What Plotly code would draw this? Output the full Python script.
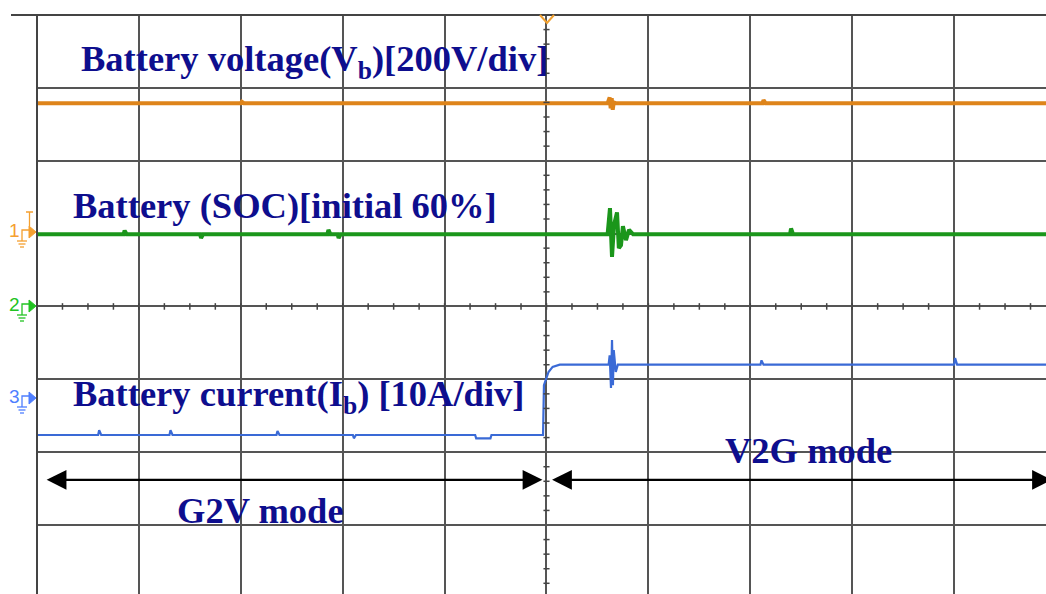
import plotly.graph_objects as go

# ---------------- data (oscilloscope divisions) ----------------
# time axis: 0..~9.9 div, vertical: -3.95..4 div (0 = screen centre)
v_t = [0.0, 2.0, 2.01, 2.03, 5.60, 5.62, 5.63, 5.64, 5.65, 5.66, 5.68, 7.12, 7.13, 7.15, 9.95]
v_y = [2.79, 2.79, 2.81, 2.79, 2.79, 2.87, 2.72, 2.86, 2.70, 2.80, 2.79, 2.79, 2.83, 2.79, 2.79]

soc_t = [0.0, 0.85, 0.86, 0.88, 1.60, 1.61, 1.63, 2.85, 2.86, 2.88, 2.95, 2.96, 2.98,
         5.60, 5.623, 5.643, 5.663, 5.692, 5.71, 5.731, 5.75, 5.78, 5.81, 5.85,
         7.39, 7.40, 7.42, 9.95]
soc_y = [0.99, 0.99, 1.04, 0.99, 0.99, 0.94, 0.99, 0.99, 1.05, 0.99, 0.99, 0.94, 0.99,
         0.99, 1.35, 0.68, 1.12, 1.29, 0.80, 0.84, 1.10, 0.91, 1.05, 0.99,
         0.99, 1.07, 0.99, 0.99]

i_t = [0.0, 0.60, 0.61, 0.63, 1.30, 1.31, 1.33, 2.35, 2.36, 2.38, 3.10, 3.11, 3.13,
       4.30, 4.31, 4.45, 4.46, 4.966, 4.975, 5.02, 5.06, 5.13,
       5.61, 5.62, 5.633, 5.643, 5.652, 5.66, 5.68, 5.70,
       7.10, 7.11, 7.13, 9.00, 9.01, 9.03, 9.95]
i_y = [-1.765, -1.765, -1.70, -1.765, -1.765, -1.70, -1.765, -1.765, -1.71, -1.765, -1.765, -1.81, -1.765,
       -1.765, -1.81, -1.81, -1.765, -1.765, -1.08, -0.90, -0.83, -0.80,
       -0.80, -0.67, -1.12, -0.46, -1.08, -0.60, -0.90, -0.80,
       -0.80, -0.74, -0.80, -0.80, -0.71, -0.80, -0.80]

labels = {
    "vb": "<b>Battery voltage(V<sub>b</sub>)[200V/div]</b>",
    "soc": "<b>Battery (SOC)[initial 60%]</b>",
    "ib": "<b>Battery current(I<sub>b</sub>) [10A/div]</b>",
    "g2v": "<b>G2V mode</b>",
    "v2g": "<b>V2G mode</b>",
}

# ---------------- geometry helpers ----------------
W, H = 1046, 594
L, T = 37, 15
XR = [0, 9.902]
YR = [-3.947, 4.0]
PW, PH = W - L, H - T


def px(xp):
    return (xp - L) / PW


def py(yp):
    return (H - yp) / PH


ORANGE = "#DE841A"
GREEN = "#1B961B"
BLUE = "#3A6AD6"
TXT = "#0E0E8E"
GRID = "#555555"

fig = go.Figure()
fig.add_trace(go.Scatter(x=v_t, y=v_y, mode="lines", line=dict(color=ORANGE, width=4), hoverinfo="skip"))
fig.add_trace(go.Scatter(x=soc_t, y=soc_y, mode="lines", line=dict(color=GREEN, width=4), hoverinfo="skip"))
fig.add_trace(go.Scatter(x=i_t, y=i_y, mode="lines", line=dict(color=BLUE, width=2.2), hoverinfo="skip"))

shapes = []
# borders
shapes.append(dict(type="line", xref="paper", yref="paper", x0=px(11), x1=1.0, y0=1, y1=1,
                   line=dict(color="#444", width=2)))
shapes.append(dict(type="line", xref="paper", yref="paper", x0=0, x1=0, y0=0, y1=1,
                   line=dict(color="#444", width=2)))
# minor ticks on centre lines
k = 0.25
while k < XR[1]:
    shapes.append(dict(type="line", xref="x", yref="y", x0=k, x1=k, y0=-0.045, y1=0.045,
                       line=dict(color="#444", width=1.5)))
    k += 0.25
j = -3.8
while j < 4:
    if abs(j - round(j)) > 1e-6:
        shapes.append(dict(type="line", xref="x", yref="y", x0=4.97, x1=5.03, y0=j, y1=j,
                           line=dict(color="#444", width=1.5)))
    j = round(j + 0.2, 4)

# trigger marker (top)
shapes.append(dict(type="path", xref="paper", yref="paper",
                   path=f"M {px(540)} {py(15)} L {px(547)} {py(23)} L {px(554)} {py(15)}",
                   line=dict(color="#F0A030", width=2)))

# channel markers on left
chan = [(232, "#F5A030", "1"), (306, "#22C322", "2"), (398, "#4F7FFF", "3")]
for yy, col, _ in chan:
    shapes.append(dict(type="path", xref="paper", yref="paper",
                       path=f"M {px(29)} {py(yy-6)} L {px(36)} {py(yy)} L {px(29)} {py(yy+6)} Z",
                       fillcolor=col, line=dict(color=col, width=1)))
    # step + ground symbol
    shapes.append(dict(type="path", xref="paper", yref="paper",
                       path=f"M {px(22)} {py(yy+9)} L {px(22)} {py(yy-2)} L {px(29)} {py(yy-2)}",
                       line=dict(color=col, width=1.3)))
    for dy, hw in [(9, 5), (12, 3.5), (15, 2)]:
        shapes.append(dict(type="line", xref="paper", yref="paper",
                           x0=px(22 - hw), x1=px(22 + hw), y0=py(yy + dy), y1=py(yy + dy),
                           line=dict(color=col, width=1.3)))
# extra marker on ch1
shapes.append(dict(type="path", xref="paper", yref="paper",
                   path=f"M {px(26)} {py(212)} L {px(33)} {py(212)} M {px(29.5)} {py(212)} L {px(29.5)} {py(226)}",
                   line=dict(color="#F5A030", width=1.3)))

annotations = []
for yy, col, lab in chan:
    annotations.append(dict(x=px(14), y=py(yy - 2), xref="paper", yref="paper", text=lab, showarrow=False,
                            font=dict(family="Liberation Sans", size=19, color=col),
                            xanchor="center", yanchor="middle"))

annotations += [
    dict(x=0.41, y=3.36, text=labels["vb"], xanchor="left", yanchor="middle"),
    dict(x=0.33, y=1.39, text=labels["soc"], xanchor="left", yanchor="middle"),
    dict(x=0.33, y=-1.24, text=labels["ib"], xanchor="left", yanchor="middle"),
    dict(x=2.19, y=-2.80, text=labels["g2v"], xanchor="center", yanchor="middle"),
    dict(x=7.57, y=-1.98, text=labels["v2g"], xanchor="center", yanchor="middle"),
]
for a in annotations[3:]:
    a.update(xref="x", yref="y", showarrow=False,
             font=dict(family="Liberation Serif", size=36.5, color=TXT))

# double-headed arrows
for x0, x1 in [(0.08, 4.96), (5.04, 9.96)]:
    annotations.append(dict(x=x1, y=-2.38, ax=x0, ay=-2.38, xref="x", yref="y", axref="x", ayref="y",
                            text="", showarrow=True, arrowhead=2, startarrowhead=2, arrowside="end+start",
                            arrowsize=1.8, startarrowsize=1.8, arrowwidth=2.2, arrowcolor="black"))

fig.update_layout(
    width=W, height=H, margin=dict(l=L, r=0, t=T, b=0),
    paper_bgcolor="white", plot_bgcolor="white", showlegend=False,
    shapes=shapes, annotations=annotations,
    xaxis=dict(range=XR, dtick=1, tick0=0, showgrid=True, gridcolor=GRID, gridwidth=1.7,
               zeroline=False, showticklabels=False, ticks="", showline=False, fixedrange=True),
    yaxis=dict(range=YR, dtick=1, tick0=0, showgrid=True, gridcolor=GRID, gridwidth=1.7,
               zeroline=False, showticklabels=False, ticks="", showline=False, fixedrange=True),
)

fig.write_html("out.html", config={"displayModeBar": False})
